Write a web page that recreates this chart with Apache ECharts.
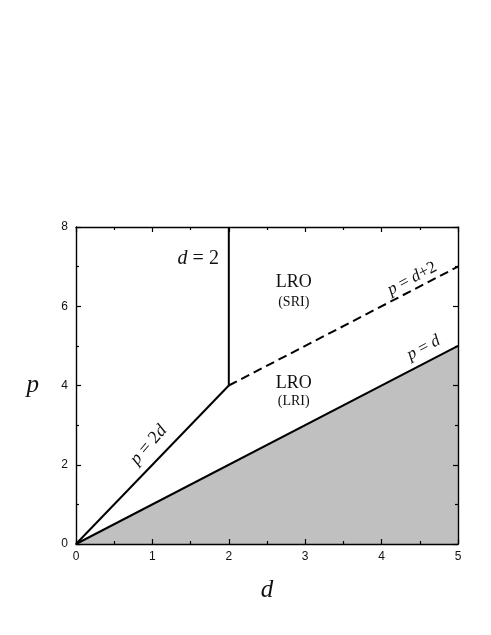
<!DOCTYPE html>
<html>
<head>
<meta charset="utf-8">
<script src="https://cdn.jsdelivr.net/npm/echarts@6/dist/echarts.min.js"></script>
<style>
  html, body { margin: 0; padding: 0; background: #fff; }
  #chart { width: 491px; height: 635px; }
</style>
</head>
<body>
<div id="chart"></div>
<script>
// phase boundaries, [d, p]
var lineP_d = [[0, 0], [5, 5]];
var lineP_2d = [[0, 0], [2, 4]];
var lineD_2 = [[2, 4], [2, 8]];
var lineP_d2 = [[2, 4], [5, 7]];

var xTicks = [0, 1, 2, 3, 4, 5];
var yTicks = [0, 2, 4, 6, 8];

var chart = echarts.init(document.getElementById("chart"));

var tickLabel = { color: "#111", fontFamily: "Liberation Sans", fontSize: 12 };
var axisLine = { show: true, onZero: false, lineStyle: { color: "#000", width: 1.4 } };
var tick = { show: true, inside: true, length: 5, lineStyle: { color: "#000", width: 1.2 } };
var minor = { show: true, splitNumber: 2, length: 3, lineStyle: { color: "#000", width: 1.2 } };

function baseLine(data, dashed) {
  return {
    type: "line",
    data: data,
    symbol: "none",
    silent: true,
    animation: false,
    lineStyle: { color: "#000", width: 2, type: dashed ? [9, 5] : "solid" }
  };
}

var shaded = baseLine(lineP_d);
shaded.areaStyle = { color: "#c0c0c0", opacity: 1 };
shaded.z = 1;

var option = {
  backgroundColor: "#fff",
  animation: false,
  grid: { left: 76, right: 33, top: 227, bottom: 91 },
  xAxis: [{
    type: "value", min: xTicks[0], max: xTicks[xTicks.length - 1], interval: 1, z: 5,
    name: "d", nameLocation: "middle", nameGap: 34,
    nameTextStyle: { fontFamily: "Liberation Serif", fontStyle: "italic", fontSize: 25, color: "#111" },
    axisLine: axisLine, axisTick: tick, minorTick: minor,
    axisLabel: Object.assign({ margin: 7 }, tickLabel),
    splitLine: { show: false }
  }, {
    type: "value", min: 0, max: 5, interval: 1, position: "top", z: 5,
    axisLine: axisLine, axisTick: tick, minorTick: minor,
    axisLabel: { show: false },
    splitLine: { show: false }
  }],
  yAxis: [{
    type: "value", min: yTicks[0], max: yTicks[yTicks.length - 1], interval: 2, z: 5,
    name: "p", nameLocation: "middle", nameGap: 37, nameRotate: 0,
    nameTextStyle: { fontFamily: "Liberation Serif", fontStyle: "italic", fontSize: 25, color: "#111" },
    axisLine: axisLine, axisTick: tick, minorTick: minor,
    axisLabel: Object.assign({ margin: 8 }, tickLabel),
    splitLine: { show: false }
  }, {
    type: "value", min: 0, max: 8, interval: 2, position: "right", z: 5,
    axisLine: axisLine, axisTick: tick, minorTick: minor,
    axisLabel: { show: false },
    splitLine: { show: false }
  }],
  series: [
    shaded,
    baseLine(lineP_2d),
    baseLine(lineD_2),
    baseLine(lineP_d2, true),
    // keeps the mirrored top/right axes drawn
    { type: "line", xAxisIndex: 1, yAxisIndex: 1, data: [[0, 0]], symbol: "none", silent: true,
      lineStyle: { opacity: 0 } }
  ]
};
chart.setOption(option);

// text annotations placed in data coordinates
var serif = "Liberation Serif";
function txt(d, p, parts, size, rot) {
  var pt = chart.convertToPixel({ gridIndex: 0 }, [d, p]);
  return {
    type: "text", x: pt[0], y: pt[1], rotation: (rot || 0) * Math.PI / 180, z: 10,
    style: {
      text: parts, fontFamily: serif, fontSize: size, fill: "#111",
      align: "center", verticalAlign: "middle",
      rich: {
        i: { fontFamily: serif, fontStyle: "italic", fontSize: size, fill: "#111" },
        n: { fontFamily: serif, fontSize: size, fill: "#111" }
      }
    }
  };
}
chart.setOption({
  graphic: [
    txt(1.6, 7.2, "{i|d} {n|= 2}", 20, 0),
    txt(2.85, 6.6, "LRO", 18, 0),
    txt(2.85, 6.1, "(SRI)", 14, 0),
    txt(2.85, 4.05, "LRO", 18, 0),
    txt(2.85, 3.6, "(LRI)", 14, 0),
    txt(0.95, 2.5, "{i|p} {n|= 2}{i|d}", 18, 49),
    txt(4.4, 6.7, "{i|p} {n|=} {i|d}{n|+2}", 17, 28),
    txt(4.55, 4.95, "{i|p} {n|=} {i|d}", 17, 28)
  ]
});
</script>
</body>
</html>
